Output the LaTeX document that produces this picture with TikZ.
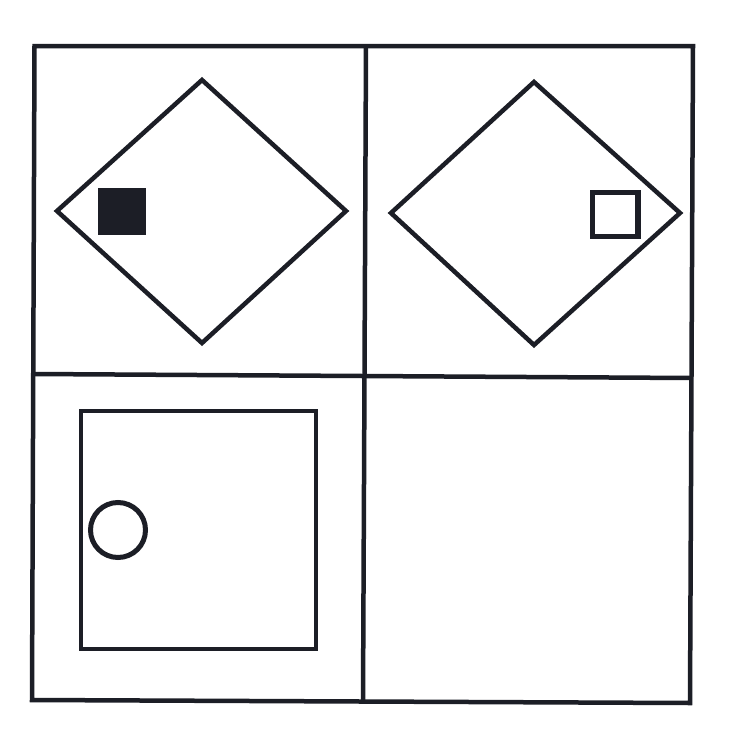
\documentclass[tikz,border=0pt]{standalone}
\begin{document}
\begin{tikzpicture}[x=1pt,y=-1pt,
  ink/.style={draw=inkc,line width=4.5pt,line join=miter},
  ]
\definecolor{inkc}{HTML}{1C1E26}
\fill[white] (0,0) rectangle (728,736);
\useasboundingbox (0,0) rectangle (728,736);
% outer frame (slightly skewed as in the scan)
\coordinate (tl) at (34.5,46);
\coordinate (tr) at (693,46);
\coordinate (br) at (690,703);
\coordinate (bl) at (32,700);
\draw[ink] (tl) -- (tr) -- (br) -- (bl) -- cycle;
% middle lines
\coordinate (vt) at (366,46);
\coordinate (vb) at (363,702);
\coordinate (hl) at (33,374);
\coordinate (hr) at (692,378);
\draw[ink] (vt) -- (vb);
\draw[ink] (hl) -- (hr);
% panel 1: diamond with filled square
\draw[ink] (202,80) -- (346,211) -- (202,343) -- (57,211) -- cycle;
\fill[inkc] (98,188) rectangle (146,235);
% panel 2: diamond with open square
\draw[ink] (534,82) -- (680,213) -- (534,345) -- (391,213) -- cycle;
\draw[ink,line width=5.5pt] (592.5,192.5) rectangle (638,236.5);
% panel 3: square with circle
\draw[ink] (81,411) rectangle (316,649);
\draw[ink,line width=5pt] (118,530) circle (27.5);
\end{tikzpicture}
\end{document}
